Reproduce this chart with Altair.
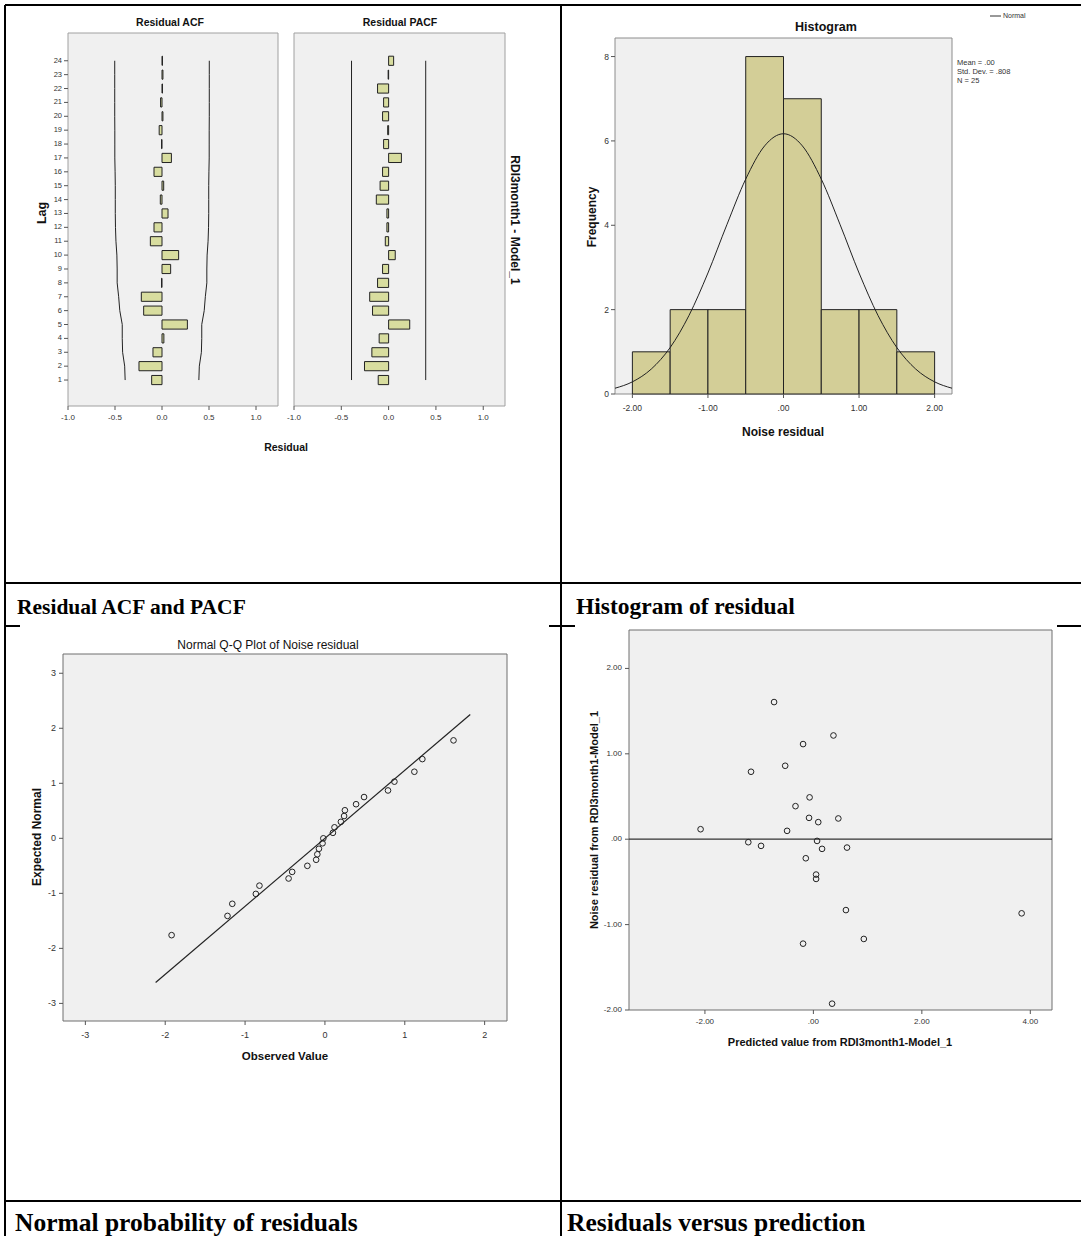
import altair as alt
import pandas as pd

W, H = 1081, 1236
FONT = "Liberation Sans"
SERIF = "Liberation Serif"

# ---------------- data ----------------
lags = list(range(1, 25))
acf_values = [-0.11, -0.245, -0.096, 0.02, 0.27, -0.195, -0.22, -0.005, 0.092, 0.177,
              -0.124, -0.085, 0.064, -0.018, 0.018, -0.085, 0.10, -0.005, -0.03, 0.01,
              -0.015, 0.005, 0.01, 0.005]
acf_upper = [0.392, 0.397, 0.419, 0.423, 0.423, 0.449, 0.461, 0.477, 0.477, 0.480,
             0.490, 0.495, 0.497, 0.497, 0.497, 0.499, 0.502, 0.502, 0.502, 0.503,
             0.503, 0.503, 0.503, 0.503]
acf_lower = [-0.392, -0.397, -0.419, -0.423, -0.423, -0.449, -0.461, -0.477, -0.477, -0.480,
             -0.490, -0.495, -0.497, -0.497, -0.497, -0.499, -0.502, -0.502, -0.502, -0.503,
             -0.503, -0.503, -0.503, -0.503]
pacf_values = [-0.11, -0.255, -0.177, -0.10, 0.223, -0.17, -0.20, -0.117, -0.064, 0.07,
               -0.035, -0.018, -0.018, -0.13, -0.09, -0.064, 0.135, -0.053, -0.01, -0.064,
               -0.053, -0.117, -0.005, 0.053]
pacf_limits = [-0.392, 0.392]
corr_ticks = [-1.0, -0.5, 0.0, 0.5, 1.0]

hist_bin_start = [-2.0, -1.5, -1.0, -0.5, 0.0, 0.5, 1.0, 1.5]
hist_bin_end = [-1.5, -1.0, -0.5, 0.0, 0.5, 1.0, 1.5, 2.0]
hist_counts = [1, 2, 2, 8, 7, 2, 2, 1]
normal_x = [-2.23, -2.0, -1.75, -1.5, -1.25, -1.0, -0.75, -0.5, -0.25, 0.0,
            0.25, 0.5, 0.75, 1.0, 1.25, 1.5, 1.75, 2.0, 2.23]
normal_freq = [0.137, 0.288, 0.591, 1.101, 1.865, 2.869, 4.011, 5.095, 5.882, 6.17,
               5.882, 5.095, 4.011, 2.869, 1.865, 1.101, 0.591, 0.288, 0.137]
hist_stats = ["Mean = .00", "Std. Dev. = .808", "N = 25"]
hist_xticks = [-2.0, -1.0, 0.0, 1.0, 2.0]
hist_yticks = [0, 2, 4, 6, 8]

qq_observed = [-1.92, -1.22, -1.16, -0.865, -0.82, -0.455, -0.41, -0.22, -0.11, -0.095,
               -0.075, -0.03, -0.02, 0.10, 0.12, 0.20, 0.24, 0.25, 0.39, 0.49,
               0.79, 0.87, 1.12, 1.22, 1.61]
qq_expected = [-1.76, -1.41, -1.19, -1.01, -0.86, -0.73, -0.61, -0.50, -0.39, -0.29,
               -0.19, -0.09, 0.0, 0.10, 0.20, 0.30, 0.405, 0.51, 0.62, 0.75,
               0.87, 1.03, 1.21, 1.44, 1.78]
qq_line_x = [-2.12, 1.82]
qq_line_y = [-2.62, 2.25]
qq_xticks = [-3, -2, -1, 0, 1, 2]
qq_yticks = [-3, -2, -1, 0, 1, 2, 3]

pred_values = [-0.725, 0.37, -0.19, -0.52, -1.15, -0.07, -0.33, -0.08, 0.46, 0.09,
               -2.08, -0.485, -1.20, 0.068, -0.965, 0.16, 0.62, -0.14, 0.05, 0.05,
               0.60, 3.84, 0.93, -0.19, 0.345]
resid_values = [1.606, 1.215, 1.114, 0.86, 0.79, 0.49, 0.387, 0.25, 0.243, 0.20,
                0.117, 0.098, -0.035, -0.02, -0.078, -0.113, -0.098, -0.223, -0.414, -0.465,
                -0.83, -0.868, -1.168, -1.223, -1.926]
sc_xticks = [-2.0, 0.0, 2.0, 4.0]
sc_yticks = [-2.0, -1.0, 0.0, 1.0, 2.0]

EMPTY = alt.Data(values=[{}])
BG = "#F0F0F0"
ACF_FILL = "#D8DD9F"
HIST_FILL = "#D3CE97"
TICK = "#555555"
LAB = "#333333"

FMT1 = "(datum.t < 0 ? '-' : '') + format(abs(datum.t), '.1f')"
FMT2 = "datum.t == 0 ? '.00' : (datum.t < 0 ? '-' : '') + format(abs(datum.t), '.2f')"
FMTD = "(datum.t < 0 ? '-' : '') + format(abs(datum.t), 'd')"

HIDDEN = dict(labels=False, ticks=False, domain=False, grid=False, title=None)


def frame(xdom, ydom, xr, yr, stroke):
    return alt.Chart(EMPTY).mark_rect(fill=BG, stroke=stroke, strokeWidth=1).encode(
        x=alt.XDatum(xdom[0], type="quantitative",
                     scale=alt.Scale(domain=xdom, range=xr, nice=False, zero=False),
                     axis=alt.Axis(orient="bottom", **HIDDEN)),
        x2=alt.X2Datum(xdom[1]),
        y=alt.YDatum(ydom[0], type="quantitative",
                     scale=alt.Scale(domain=ydom, range=yr, nice=False, zero=False),
                     axis=alt.Axis(orient="left", **HIDDEN)),
        y2=alt.Y2Datum(ydom[1]),
    )


def xticks(values, ybase, fmt, size, dy):
    df = pd.DataFrame({"t": values})
    tk = alt.Chart(df).mark_rule(color=TICK, strokeWidth=1, y2Offset=4).encode(
        x=alt.X("t:Q", axis=None), y=alt.YDatum(ybase, axis=None),
        y2=alt.Y2Datum(ybase))
    lb = alt.Chart(df).transform_calculate(lab=fmt).mark_text(
        font=FONT, fontSize=size, color=LAB, baseline="middle", align="center", dy=dy
    ).encode(x=alt.X("t:Q", axis=None), y=alt.YDatum(ybase, axis=None), text="lab:N")
    return [tk, lb]


def yticks(values, xbase, fmt, size, dx):
    df = pd.DataFrame({"t": values})
    tk = alt.Chart(df).mark_rule(color=TICK, strokeWidth=1, x2Offset=-4).encode(
        y=alt.Y("t:Q", axis=None), x=alt.XDatum(xbase, axis=None),
        x2=alt.X2Datum(xbase))
    lb = alt.Chart(df).transform_calculate(lab=fmt).mark_text(
        font=FONT, fontSize=size, color=LAB, baseline="middle", align="right", dx=dx
    ).encode(y=alt.Y("t:Q", axis=None), x=alt.XDatum(xbase, axis=None), text="lab:N")
    return [tk, lb]


def label(text, x, y, size, weight="normal", angle=0, align="center", baseline="middle",
          font=FONT, color="#111"):
    return alt.Chart(EMPTY).mark_text(text=text, font=font, fontSize=size, fontWeight=weight,
                                      angle=angle, align=align, baseline=baseline,
                                      color=color).encode(x=alt.value(x), y=alt.value(y))


def hline(x1, x2, y, w=2, color="black"):
    return alt.Chart(EMPTY).mark_rule(color=color, strokeWidth=w).encode(
        x=alt.value(x1), x2=alt.value(x2), y=alt.value(y))


def vline(x, y1, y2, w=2, color="black"):
    return alt.Chart(EMPTY).mark_rule(color=color, strokeWidth=w).encode(
        x=alt.value(x), y=alt.value(y1), y2=alt.value(y2))


# ---------------- ACF ----------------
LAG_DOM = [-0.87, 26.0]
acf_df = pd.DataFrame({"lag": lags, "v": acf_values})
acf_lim = pd.DataFrame({"lag": lags + lags, "lim": acf_upper + acf_lower,
                        "side": ["u"] * 24 + ["l"] * 24})

acf_layer = alt.layer(
    frame([-1.0, 1.234], LAG_DOM, [68, 278], [406, 33], "#A0A0A0"),
    alt.Chart(acf_df).transform_calculate(lo="datum.lag - 0.33", hi="datum.lag + 0.33")
    .mark_rect(fill=ACF_FILL, stroke="#222", strokeWidth=1)
    .encode(x=alt.X("v:Q", axis=None), x2=alt.X2Datum(0),
            y=alt.Y("lo:Q", axis=None), y2="hi:Q"),
    alt.Chart(acf_lim).mark_line(color="#222", strokeWidth=1)
    .encode(x=alt.X("lim:Q", axis=None), y=alt.Y("lag:Q", axis=None),
            detail="side:N", order="lag:Q"),
    *xticks(corr_ticks, LAG_DOM[0], FMT1, 8, 12),
    *yticks(lags, -1.0, "datum.t + ''", 7.5, -6),
)

# ---------------- PACF ----------------
pacf_df = pd.DataFrame({"lag": lags, "v": pacf_values})
pacf_layer = alt.layer(
    frame([-1.0, 1.23], LAG_DOM, [294, 505], [406, 33], "#A0A0A0"),
    alt.Chart(pacf_df).transform_calculate(lo="datum.lag - 0.33", hi="datum.lag + 0.33")
    .mark_rect(fill=ACF_FILL, stroke="#222", strokeWidth=1)
    .encode(x=alt.X("v:Q", axis=None), x2=alt.X2Datum(0),
            y=alt.Y("lo:Q", axis=None), y2="hi:Q"),
    alt.Chart(pd.DataFrame({"lim": pacf_limits})).mark_rule(color="#222", strokeWidth=1)
    .encode(x=alt.X("lim:Q", axis=None), y=alt.YDatum(1, axis=None), y2=alt.Y2Datum(24)),
    *xticks(corr_ticks, LAG_DOM[0], FMT1, 8, 12),
)

# ---------------- Histogram ----------------
hist_df = pd.DataFrame({"s": hist_bin_start, "e": hist_bin_end, "c": hist_counts})
norm_df = pd.DataFrame({"x": normal_x, "f": normal_freq})
hist_layer = alt.layer(
    frame([-2.23, 2.23], [0, 8.44], [615, 952], [394, 38], "#8C8C8C"),
    alt.Chart(hist_df).mark_rect(fill=HIST_FILL, stroke="#222", strokeWidth=1)
    .encode(x=alt.X("s:Q", axis=None), x2="e:Q",
            y=alt.Y("c:Q", axis=None), y2=alt.Y2Datum(0)),
    alt.Chart(norm_df).mark_line(color="#222", strokeWidth=1, interpolate="monotone")
    .encode(x=alt.X("x:Q", axis=None), y=alt.Y("f:Q", axis=None)),
    *xticks(hist_xticks, 0, FMT2, 8.5, 14),
    *yticks(hist_yticks, -2.23, "datum.t + ''", 8.5, -6),
)

# ---------------- Q-Q ----------------
qq_df = pd.DataFrame({"o": qq_observed, "e": qq_expected})
qql_df = pd.DataFrame({"o": qq_line_x, "e": qq_line_y})
qq_layer = alt.layer(
    frame([-3.28, 2.28], [-3.32, 3.35], [63, 507], [1021, 654], "#6E6E6E"),
    alt.Chart(qql_df).mark_line(color="#222", strokeWidth=1.2)
    .encode(x=alt.X("o:Q", axis=None), y=alt.Y("e:Q", axis=None)),
    alt.Chart(qq_df).mark_point(shape="circle", filled=False, size=32, color="#222",
                                strokeWidth=1, opacity=1)
    .encode(x=alt.X("o:Q", axis=None), y=alt.Y("e:Q", axis=None)),
    *xticks(qq_xticks, -3.32, FMTD, 9, 14),
    *yticks(qq_yticks, -3.28, FMTD, 9, -7),
)

# ---------------- Residual vs prediction ----------------
sc_df = pd.DataFrame({"p": pred_values, "r": resid_values})
sc_layer = alt.layer(
    frame([-3.4, 4.4], [-2.0, 2.45], [629, 1052], [1010, 630], "#6E6E6E"),
    alt.Chart(EMPTY).mark_rule(color="#333", strokeWidth=1.3)
    .encode(x=alt.XDatum(-3.4, axis=None), x2=alt.X2Datum(4.4),
            y=alt.YDatum(0, axis=None)),
    alt.Chart(sc_df).mark_point(shape="circle", filled=False, size=32, color="#222",
                                strokeWidth=1, opacity=1)
    .encode(x=alt.X("p:Q", axis=None), y=alt.Y("r:Q", axis=None)),
    *xticks(sc_xticks, -2.0, FMT2, 8, 12),
    *yticks(sc_yticks, -3.4, FMT2, 8, -7),
)

# ---------------- table + texts ----------------
table = [
    hline(5, W, 5), vline(5, 5, H), vline(561, 5, H),
    hline(5, W, 583), hline(5, 20, 626), hline(549, 575, 626), hline(1057, W, 626),
    hline(5, W, 1201),
]
texts = [
    label("Residual ACF", 170, 23, 10.5, "bold"),
    label("Residual PACF", 400, 23, 10.5, "bold"),
    label("Lag", 42, 213, 12.5, "bold", angle=270),
    label("Residual", 286, 448, 10.5, "bold"),
    label("RDI3month1 - Model_1", 515, 220, 12, "bold", angle=90),
    label("Histogram", 826, 27, 12.5, "bold"),
    label("Frequency", 592, 217, 12, "bold", angle=270),
    label("Noise residual", 783, 432, 12, "bold"),
    hline(990, 1001, 16, 1, "#333"),
    label("Normal", 1003, 16, 7, align="left", color="#333"),
    label(hist_stats[0], 957, 63, 7.5, align="left", color="#333"),
    label(hist_stats[1], 957, 72, 7.5, align="left", color="#333"),
    label(hist_stats[2], 957, 81, 7.5, align="left", color="#333"),
    label("Normal Q-Q Plot of Noise residual", 268, 645, 12),
    label("Expected Normal", 37, 837, 12, "bold", angle=270),
    label("Observed Value", 285, 1057, 11.5, "bold"),
    label("Noise residual from RDI3month1-Model_1", 595, 820, 11, "bold", angle=270),
    label("Predicted value from RDI3month1-Model_1", 840, 1043, 11, "bold"),
    label("Residual ACF and PACF", 17, 614, 21.5, "bold", align="left",
          baseline="alphabetic", font=SERIF, color="black"),
    label("Histogram of residual", 576, 614, 23.5, "bold", align="left",
          baseline="alphabetic", font=SERIF, color="black"),
    label("Normal probability of residuals", 15, 1231, 25.5, "bold", align="left",
          baseline="alphabetic", font=SERIF, color="black"),
    label("Residuals versus prediction", 567, 1231, 25.5, "bold", align="left",
          baseline="alphabetic", font=SERIF, color="black"),
]

chart = alt.layer(
    *table, acf_layer, pacf_layer, hist_layer, qq_layer, sc_layer, *texts
).resolve_scale(x="independent", y="independent").resolve_axis(
    x="independent", y="independent"
).properties(
    width=W, height=H, padding=0, background="white",
    autosize=alt.AutoSizeParams(type="none"),
).configure_view(stroke=None)

chart.save("out.html", embed_options={"renderer": "svg", "actions": False})
